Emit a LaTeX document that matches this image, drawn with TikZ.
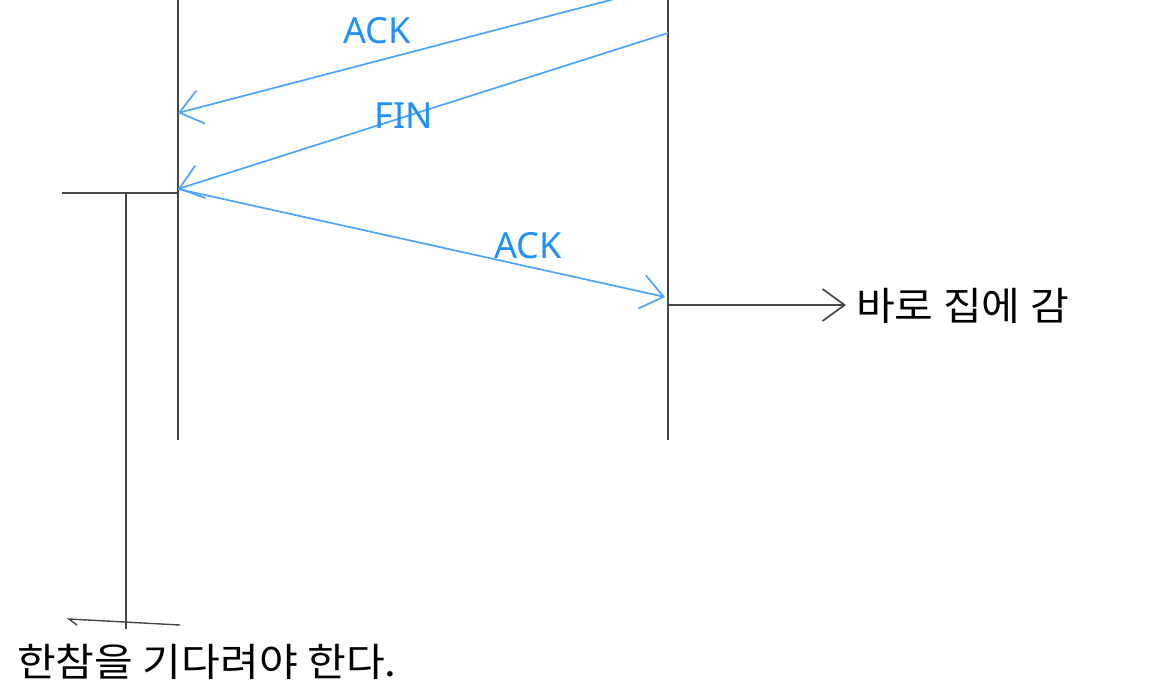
\documentclass[tikz,border=0pt]{standalone}
\usepackage{fontspec}
\setmainfont{Noto Sans}
\newfontfamily\kr[FakeStretch=1.08]{Noto Sans CJK KR}
\usetikzlibrary{arrows.meta}
\definecolor{lineblue}{RGB}{75,165,255}
\definecolor{textblue}{RGB}{30,144,255}
\definecolor{ink}{RGB}{70,70,70}
\tikzset{
  life/.style={draw=ink, line width=1.7pt},
  msg/.style={draw=lineblue, line width=1.7pt, -{Straight Barb[length=22pt,width=34pt]}},
  lbl/.style={text=textblue, font=\fontsize{36}{40}\selectfont, inner sep=0pt},
  krtext/.style={text=black, font=\kr\fontsize{39}{44}\selectfont, inner sep=0pt, anchor=west},
  blk/.style={draw=ink, line width=1.7pt},
  blkarrow/.style={draw=ink, line width=1.7pt, -{Straight Barb[length=22pt,width=32pt]}}
}
\begin{document}
\begin{tikzpicture}[x=1pt,y=-1pt]
\useasboundingbox (0,0) rectangle (1152,694);
\clip (0,0) rectangle (1152,694);
% lifelines
\coordinate (Ltop) at (178,0);
\coordinate (Lbot) at (178,440);
\coordinate (Rtop) at (668,0);
\coordinate (Rbot) at (668,440);
\draw[life] (Ltop) -- (Lbot);
\draw[life] (Rtop) -- (Rbot);
% message points
\coordinate (ackAfrom) at (668,-15);
\coordinate (ackAto) at (178,113);
\coordinate (finfrom) at (668,33);
\coordinate (finto) at (178,189);
\coordinate (ackBfrom) at (178,189);
\coordinate (ackBto) at (665,297);
\draw[msg] (ackAfrom) -- (ackAto);
\draw[msg] (finfrom) -- (finto);
\draw[msg] (ackBfrom) -- (ackBto);
\node[lbl] (ackA) at (377,31) {ACK};
\node[lbl] (fin) at (404,116) {FIN};
\node[lbl] (ackB) at (528,246) {ACK};
% right exit
\coordinate (exitfrom) at (668,305);
\coordinate (exitto) at (846,305);
\draw[blkarrow] (exitfrom) -- (exitto);
\node[krtext] (home) at (856,306) {바로 집에 감};
% left wait
\coordinate (hl) at (62,193);
\coordinate (hr) at (178,193);
\coordinate (vtop) at (126,193);
\coordinate (vbot) at (126,629);
\draw[blk] (hl) -- (hr);
\draw[blk] (vtop) -- (vbot);
\coordinate (br) at (180,625);
\coordinate (bl) at (69,619);
\coordinate (bh) at (77,625);
\draw[blk, line width=1.4pt] (br) -- (bl) -- (bh);
\node[krtext] (wait) at (17,662) {한참을 기다려야 한다.};
\end{tikzpicture}
\end{document}
